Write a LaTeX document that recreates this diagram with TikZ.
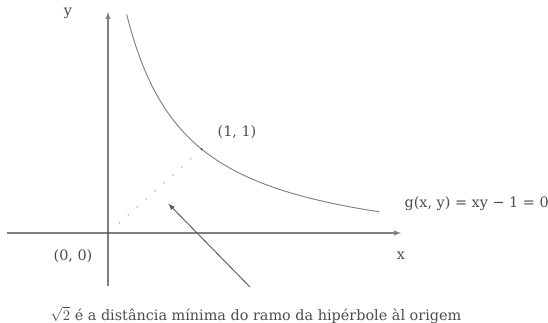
\documentclass[tikz,border=0pt]{standalone}
\usepackage{amsmath,amssymb}
\usepackage{fontspec}
\setmainfont{DejaVu Serif}
\usepackage{tikz}
\usetikzlibrary{positioning,calc}

\begin{document}
\begin{tikzpicture}[x=0.75pt,y=0.75pt,
  eixo/.style={draw=black!50, line width=0.8pt, -latex},
  curva/.style={draw=black!50, line width=0.7pt},
  rotulo/.style={text=black!70, inner sep=1pt, font=\fontsize{10.8}{12}\selectfont}]
\useasboundingbox (0,0) rectangle (548,322);
%% Axes
\coordinate (O) at (108,89);
\coordinate (xini) at (7,89);
\coordinate (xfim) at (401,89);
\coordinate (yini) at (108,36);
\coordinate (yfim) at (108,310);
\draw[eixo] (xini) -- (xfim);
\draw[eixo] (yini) -- (yfim);
\node[rotulo] (xlab) at (401,66) {x};
\node[rotulo] (ylab) at (68,309) {y};
\node[rotulo] (olab) at (73,66) {(0, 0)};
\fill[black!70] (O) circle (1.2);
%% Hyperbola branch xy = 1
\draw[curva] plot[domain=126.7:379, samples=80] (\x, {62+15150/(\x-65)});
\node[rotulo, anchor=west] (glab) at (403,118) {g(x, y) = xy − 1 = 0};
%% Closest point (1,1)
\coordinate (P) at (201.7,172.8);
\fill[black!70] (P) circle (1.2);
\node[rotulo] (plab) at (237,190) {(1, 1)};
\draw[black!45, line width=1.1pt, line cap=round, dash pattern=on 0pt off 9pt] ($(O)!0.12!(P)$) -- ($(O)!0.9!(P)$);
%% Arrow pointing to the distance
\coordinate (A) at (250,35);
\coordinate (B) at (168.3,118.3);
\draw[black!65, line width=0.7pt, -latex] (A) -- (B);
\node[rotulo] (legenda) at (256,7) {$\sqrt{2}$ é a distância mínima do ramo da hipérbole àl origem};
\end{tikzpicture}
\end{document}
